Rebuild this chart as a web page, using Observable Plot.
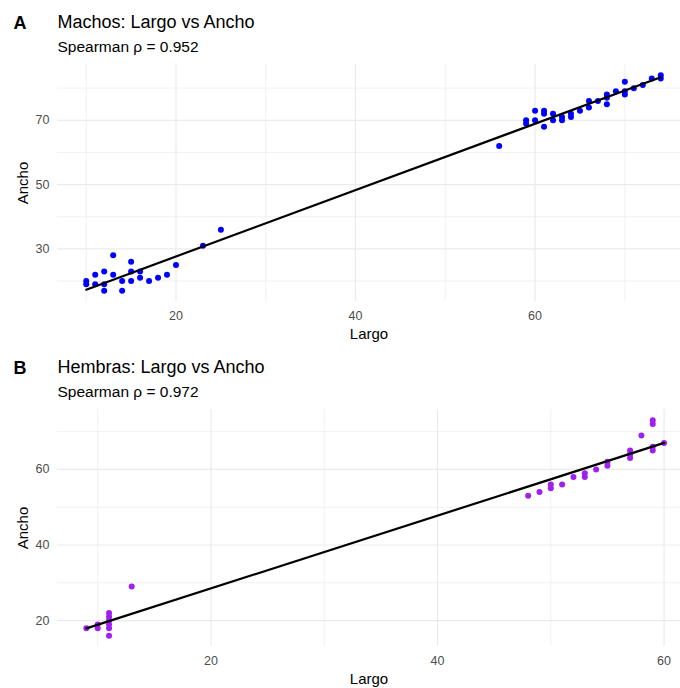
<!DOCTYPE html>
<html>
<head>
<meta charset="utf-8">
<script src="https://cdn.jsdelivr.net/npm/d3@7"></script>
<script src="https://cdn.jsdelivr.net/npm/@observablehq/plot@0.6"></script>
<style>
  html, body { margin: 0; padding: 0; background: #ffffff; }
  #chart { width: 680px; height: 688px; position: relative; overflow: hidden; }
  #chart svg { display: block; }
</style>
</head>
<body>
<div id="chart"></div>
<script>
// ---- Data: Machos (panel A) ----
const machosLargo = [10,10,11,11,12,12,12,13,13,14,14,15,15,15,16,16,17,18,19,20,23,25,
  56,59,59,60,60,61,61,61,62,62,63,63,64,64,65,66,66,67,68,68,68,69,70,70,70,71,72,73,74,74];
const machosAncho = [19,20,22,19,23,19,17,28,22,20,17,26,23,20,23,21,20,21,22,25,31,36,
  62,70,69,73,70,73,72,68,72,70,71,70,72,71,73,76,74,76,78,77,75,79,82,79,78,80,81,83,84,83];

// ---- Data: Hembras (panel B) ----
const hembrasLargo = [9,10,10,11,11,11,11,11,11,13,
  48,49,50,50,51,52,53,53,54,55,55,57,57,57,58,59,59,59,59,60];
const hembrasAncho = [18,19,18,22,21,20,19,18,16,29,
  53,54,56,55,56,58,59,58,60,62,61,65,64,63,69,73,72,66,65,67];

// ---- Text ----
const tags = ["A", "B"];
const titles = ["Machos: Largo vs Ancho", "Hembras: Largo vs Ancho"];
const subtitles = ["Spearman ρ = 0.952", "Spearman ρ = 0.972"];
const xTitle = "Largo";
const yTitle = "Ancho";

// ---- Tick values ----
const xMajorTicks = [20, 40, 60];
const xMinorA = [10, 30, 50, 70];
const xMinorB = [10, 30, 50];
const yMajorA = [30, 50, 70];
const yMinorA = [20, 40, 60, 80];
const yMajorB = [20, 40, 60];
const yMinorB = [30, 50, 70];

const toRows = (xs, ys) => xs.map((v, i) => ({largo: v, ancho: ys[i]}));

const FONT = "'Liberation Sans', Arial, Helvetica, sans-serif";
const GRID = "#ebebeb";

function panel({rows, color, xDomain, yDomain, xMinor, yMajor, yMinor, tag, title, subtitle, height, marginBottom}) {
  return Plot.plot({
    width: 680,
    height,
    marginLeft: 57,
    marginRight: 0,
    marginTop: 64,
    marginBottom,
    x: {domain: xDomain},
    y: {domain: yDomain},
    style: {fontFamily: FONT, background: "#ffffff", color: "#000000", overflow: "visible"},
    marks: [
      Plot.gridX(xMinor, {stroke: GRID, strokeOpacity: 1, strokeWidth: 0.7}),
      Plot.gridX(xMajorTicks, {stroke: GRID, strokeOpacity: 1, strokeWidth: 1.2}),
      Plot.gridY(yMinor, {stroke: GRID, strokeOpacity: 1, strokeWidth: 0.7}),
      Plot.gridY(yMajor, {stroke: GRID, strokeOpacity: 1, strokeWidth: 1.2}),
      Plot.axisX(xMajorTicks, {tickSize: 0, tickPadding: 10, fontSize: 12.5, fill: "#4d4d4d", label: null}),
      Plot.axisY(yMajor, {tickSize: 0, tickPadding: 8, fontSize: 12.5, fill: "#4d4d4d", label: null}),
      Plot.dot(rows, {x: "largo", y: "ancho", r: 3, fill: color, stroke: "none"}),
      Plot.linearRegressionY(rows, {x: "largo", y: "ancho", stroke: "#000000", strokeWidth: 2.2, ci: 0}),
      Plot.text([xTitle], {frameAnchor: "bottom", lineAnchor: "middle", textAnchor: "middle", dy: 33, fontSize: 15, fill: "#000000"}),
      Plot.text([yTitle], {frameAnchor: "left", lineAnchor: "middle", textAnchor: "middle", dx: -34.5, rotate: -90, fontSize: 15, fill: "#000000"}),
      Plot.text([title], {frameAnchor: "top-left", lineAnchor: "middle", textAnchor: "start", dy: -42, fontSize: 18, fill: "#000000"}),
      Plot.text([subtitle], {frameAnchor: "top-left", lineAnchor: "middle", textAnchor: "start", dy: -17, fontSize: 15.5, fill: "#000000"}),
      Plot.text([tag], {frameAnchor: "top-left", lineAnchor: "middle", textAnchor: "start", dx: -44, dy: -41.5, fontSize: 18, fontWeight: "bold", fill: "#000000"})
    ]
  });
}

const chart = document.getElementById("chart");

chart.append(panel({
  rows: toRows(machosLargo, machosAncho),
  color: "#0000ff",
  xDomain: [6.8, 76.2],
  yDomain: [13.65, 87.35],
  xMinor: xMinorA, yMajor: yMajorA, yMinor: yMinorA,
  tag: tags[0], title: titles[0], subtitle: subtitles[0],
  height: 345, marginBottom: 44
}));

chart.append(panel({
  rows: toRows(hembrasLargo, hembrasAncho),
  color: "#a020f0",
  xDomain: [6.45, 61.45],
  yDomain: [13.15, 75.85],
  xMinor: xMinorB, yMajor: yMajorB, yMinor: yMinorB,
  tag: tags[1], title: titles[1], subtitle: subtitles[1],
  height: 343, marginBottom: 42
}));
</script>
</body>
</html>
